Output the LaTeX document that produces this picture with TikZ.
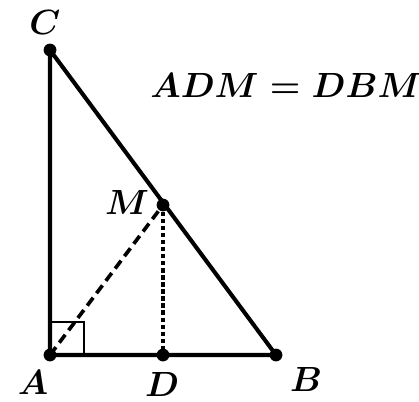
\documentclass[tikz,border=0pt]{standalone}
\usepackage{amsmath}
\begin{document}
\begin{tikzpicture}[
          x=0.025cm, y=-0.025cm,
          every node/.style={font=\fontsize{23}{27}\selectfont\boldmath},
          side/.style={line width=2.9pt},
          pt/.style={circle, fill=black, inner sep=0pt, minimum size=0.32cm},
          median/.style={line width=2.6pt, dash pattern=on 7pt off 4pt},
          height/.style={line width=2.6pt, dash pattern=on 3pt off 2pt}
        ]
        \useasboundingbox (0,0) rectangle (419,401);
        % points
        \coordinate (A) at (50,355);
        \coordinate (B) at (276,355);
        \coordinate (C) at (50,50);
        \coordinate (M) at (163,205);
        \coordinate (D) at (163,355);
        % right angle at A
        \draw[line width=2pt] (50,322) -| (84,355);
        % triangle
        \draw[side, line join=round] (C) -- (A) -- (B) -- cycle;
        % median and height
        \draw[median] (A) -- (M);
        \draw[height] (M) -- (D);
        % dots
        \foreach \p in {A,B,C,M,D}
          \node[pt] (dot\p) at (\p) {};
        % labels
        \node (labA) at (33,382) {$A$};
        \node (labB) at (306,379) {$B$};
        \node (labC) at (45,22) {$C$};
        \node (labD) at (162,384) {$D$};
        \node (labM) at (127,202) {$M$};
        \node (eq) at (286,85) {$ADM=DBM$};
      \end{tikzpicture}
\end{document}
